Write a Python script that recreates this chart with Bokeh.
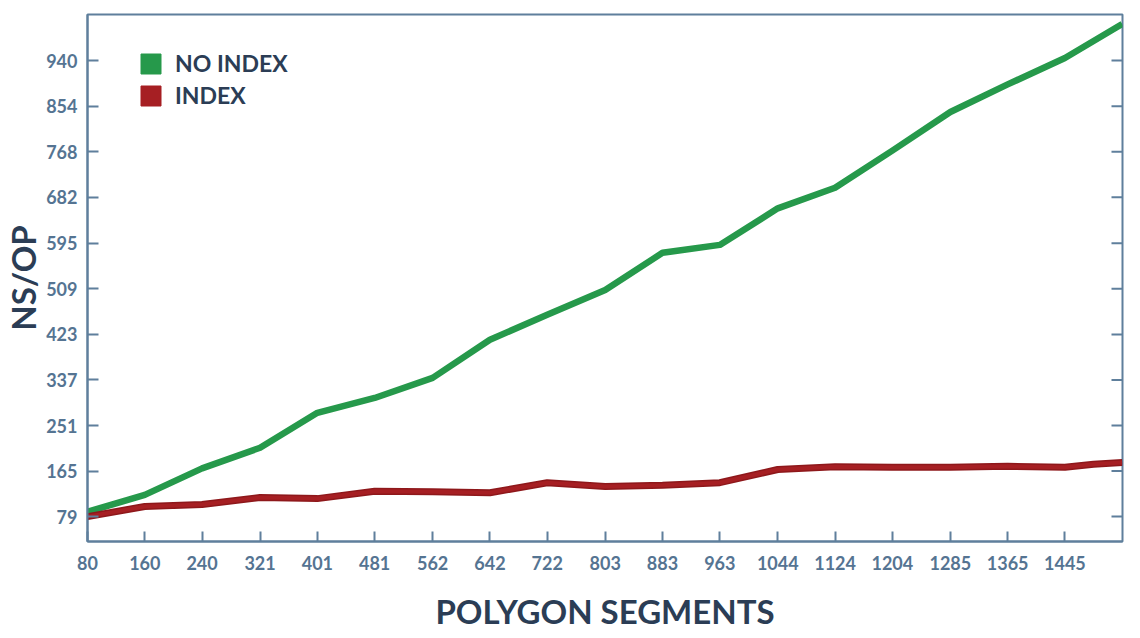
import math
from bokeh.plotting import figure
from bokeh.models import FixedTicker, Range1d, Legend, LegendItem
from bokeh.embed import file_html
from bokeh.resources import INLINE

# ---- data ----
x_ticks = [80, 160, 240, 321, 401, 481, 562, 642, 722, 803, 883, 963, 1044, 1124, 1204, 1285, 1365, 1445]
y_ticks = [79, 165, 251, 337, 423, 509, 595, 682, 768, 854, 940]

no_index_x = [80, 160, 240, 321, 401, 481, 562, 642, 722, 803, 883, 963, 1044, 1124, 1204, 1285, 1365, 1445, 1525]
no_index_y = [88, 120, 170, 209, 275, 303, 341, 413, 460, 507, 577, 592, 661, 700, 770, 843, 895, 945, 1009]

index_x = [80, 160, 240, 321, 401, 481, 562, 642, 722, 803, 883, 963, 1044, 1124, 1204, 1285, 1365, 1445, 1485, 1525]
index_y = [79, 98, 102, 115, 113, 127, 126, 124, 143, 136, 138, 143, 168, 173, 172, 172, 174, 172, 178, 181]

series_names = ["NO INDEX", "INDEX"]

AXIS = "#5f7f9c"
TICKLBL = "#557492"
TITLE = "#2b3d55"
GREEN = "#26994b"
RED = "#a61f23"
FONT = "Lato"

X_MIN, X_MAX = 80, 1525.4
p = figure(width=1140, height=638, output_backend="svg", toolbar_location=None,
           x_range=Range1d(X_MIN, X_MAX), y_range=Range1d(32, 1027),
           min_border_left=86, min_border_right=18, min_border_top=14, min_border_bottom=97,
           background_fill_color="white", border_fill_color="white")
p.grid.visible = False
p.outline_line_color = AXIS
p.outline_line_width = 2

r1 = p.line(no_index_x, no_index_y, line_color=GREEN, line_width=6.5, line_join="round")
r2 = p.line(index_x, index_y, line_color="#8e181b", line_width=7, line_join="round")
p.line(index_x, index_y, line_color=RED, line_width=4, line_join="round")

# inward tick marks on the right frame edge
p.ray(x=[X_MAX] * len(y_ticks), y=y_ticks, length=11, length_units="screen",
      angle=math.pi, line_color=AXIS, line_width=2)

# legend swatches
nan = float("nan")
s1 = p.quad(left=[nan], right=[nan], bottom=[nan], top=[nan], fill_color=GREEN, line_color=GREEN)
s2 = p.quad(left=[nan], right=[nan], bottom=[nan], top=[nan], fill_color=RED, line_color=RED)

xa = p.xaxis[0]
xa.ticker = FixedTicker(ticks=x_ticks)
xa.major_tick_in = 10
xa.major_tick_out = 0
xa.minor_tick_line_color = None
xa.axis_line_color = AXIS
xa.axis_line_width = 2
xa.major_tick_line_color = AXIS
xa.major_tick_line_width = 2
xa.major_label_text_font = FONT
xa.major_label_text_font_style = "bold"
xa.major_label_text_font_size = "18px"
xa.major_label_text_color = TICKLBL
xa.major_label_standoff = 14
xa.axis_label = "POLYGON SEGMENTS"
xa.axis_label_text_font = FONT
xa.axis_label_text_font_style = "bold"
xa.axis_label_text_font_size = "33px"
xa.axis_label_text_color = TITLE
xa.axis_label_standoff = 18

ya = p.yaxis[0]
ya.ticker = FixedTicker(ticks=y_ticks)
ya.major_tick_in = 11
ya.major_tick_out = 0
ya.minor_tick_line_color = None
ya.axis_line_color = AXIS
ya.axis_line_width = 2
ya.major_tick_line_color = AXIS
ya.major_tick_line_width = 2
ya.major_label_text_font = FONT
ya.major_label_text_font_style = "bold"
ya.major_label_text_font_size = "18px"
ya.major_label_text_color = TICKLBL
ya.major_label_standoff = 10
ya.axis_label = "NS/OP"
ya.axis_label_text_font = FONT
ya.axis_label_text_font_style = "bold"
ya.axis_label_text_font_size = "33px"
ya.axis_label_text_color = TITLE
ya.axis_label_standoff = 0

legend = Legend(items=[LegendItem(label=series_names[0], renderers=[s1]),
                       LegendItem(label=series_names[1], renderers=[s2])],
                location=(51, 432), padding=0, margin=0, spacing=4,
                glyph_width=25, glyph_height=25, label_standoff=12,
                label_text_font=FONT, label_text_font_style="bold",
                label_text_font_size="23px", label_text_color=TITLE,
                border_line_color=None, background_fill_alpha=0)
p.add_layout(legend, "center")

open("out.html", "w").write(file_html(p, INLINE))
